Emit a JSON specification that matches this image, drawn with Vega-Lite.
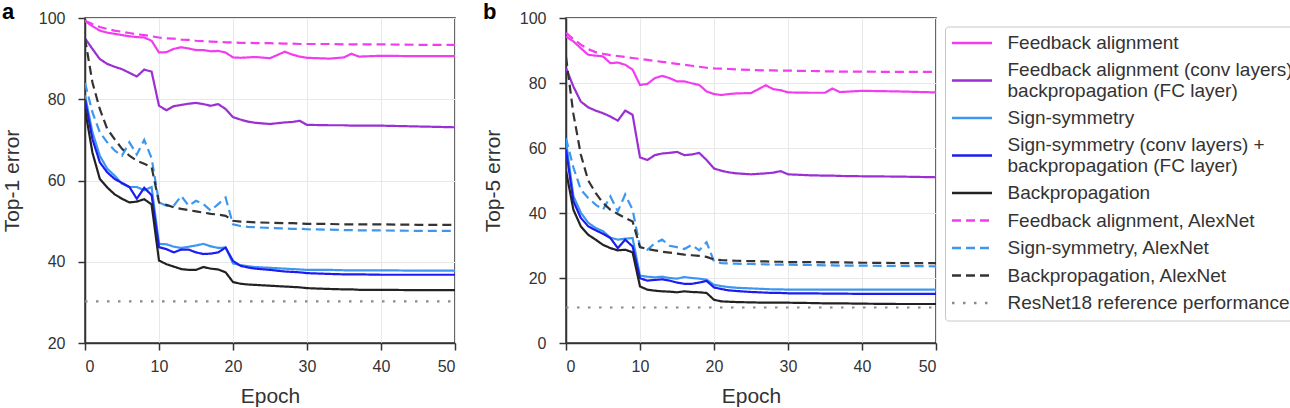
{
  "$schema": "https://vega.github.io/schema/vega-lite/v6.json",
  "padding": {"left": 0, "top": 0, "right": 0, "bottom": 0},
  "spacing": 24,
  "config": {
    "font": "Liberation Sans",
    "view": {"stroke": "#333333", "strokeWidth": 1.5},
    "axis": {"labelFontSize": 16, "titleFontSize": 21, "titleFontWeight": "normal", "labelColor": "#333333", "titleColor": "#333333", "domainColor": "#333333", "domainWidth": 1.5, "tickColor": "#333333", "tickWidth": 1.5, "tickSize": 7, "gridColor": "#e8e8e8", "gridWidth": 1},
    "axisX": {"labelPadding": 8, "titlePadding": 11},
    "axisY": {"labelPadding": 13, "titlePadding": 16},
    "title": {"fontSize": 22, "fontWeight": "bold", "anchor": "start", "frame": "group", "dx": -83, "offset": -14, "color": "#000000"},
    "legend": {"labelFontSize": 19, "labelColor": "#333333", "labelLimit": 600, "rowPadding": 7.5, "padding": 7, "strokeColor": "#c8c8c8", "cornerRadius": 3, "fillColor": "white"}
  },
  "datasets": {
    "top1": [
      {"epoch":0,"FA":99.3,"FAa":99.3,"FAc":95.0,"BPa":95.0,"SSa":84.0,"SS":81.0,"SSc":80.0,"BP":77.6,"RN":30.24},
      {"epoch":1,"FA":98.0,"FAa":98.5,"FAc":92.4,"BPa":84.2,"SSa":76.8,"SS":71.9,"SSc":70.2,"BP":66.9},
      {"epoch":2,"FA":96.9,"FAa":97.8,"FAc":89.9,"BPa":77.6,"SSa":71.9,"SS":66.1,"SSc":64.5,"BP":60.4},
      {"epoch":3,"FA":96.4,"FAa":97.3,"FAc":88.7,"BPa":72.7,"SSa":69.4,"SS":62.9,"SSc":62.0,"BP":58.3},
      {"epoch":4,"FA":96.1,"FAa":96.9,"FAc":88.0,"BPa":70.2,"SSa":67.4,"SS":61.2,"SSc":60.4,"BP":56.6},
      {"epoch":5,"FA":95.8,"FAa":96.6,"FAc":87.4,"BPa":67.8,"SSa":66.1,"SS":59.2,"SSc":59.4,"BP":55.5},
      {"epoch":6,"FA":95.5,"FAa":96.3,"FAc":86.5,"BPa":66.1,"SSa":69.4,"SS":58.4,"SSc":58.4,"BP":54.6},
      {"epoch":7,"FA":95.3,"FAa":96.0,"FAc":85.6,"BPa":64.9,"SSa":66.4,"SS":58.4,"SSc":55.5,"BP":54.8},
      {"epoch":8,"FA":95.2,"FAa":95.8,"FAc":87.3,"BPa":64.1,"SSa":70.0,"SS":57.6,"SSc":58.2,"BP":55.4},
      {"epoch":9,"FA":94.4,"FAa":95.5,"FAc":86.8,"BPa":63.3,"SSa":65.5,"SS":58.4,"SSc":56.4,"BP":54.1},
      {"epoch":10,"FA":91.5,"FAa":95.2,"FAc":78.4,"BPa":54.6,"SSa":54.6,"SS":44.4,"SSc":43.6,"BP":40.3},
      {"epoch":11,"FA":91.6,"FAa":95.0,"FAc":77.3,"BPa":54.0,"SSa":53.8,"SS":44.3,"SSc":43.1,"BP":39.4},
      {"epoch":12,"FA":92.4,"FAa":94.9,"FAc":78.3,"BPa":53.4,"SSa":53.8,"SS":43.7,"SSc":42.3,"BP":38.8},
      {"epoch":13,"FA":92.8,"FAa":94.7,"FAc":78.6,"BPa":53.0,"SSa":56.2,"SS":43.4,"SSc":43.0,"BP":38.2},
      {"epoch":14,"FA":92.5,"FAa":94.6,"FAc":78.9,"BPa":52.7,"SSa":53.8,"SS":43.7,"SSc":43.0,"BP":38.0},
      {"epoch":15,"FA":92.1,"FAa":94.4,"FAc":79.1,"BPa":52.4,"SSa":55.0,"SS":44.0,"SSc":42.3,"BP":38.0},
      {"epoch":16,"FA":92.1,"FAa":94.3,"FAc":78.8,"BPa":52.1,"SSa":54.2,"SS":44.4,"SSc":41.9,"BP":38.7},
      {"epoch":17,"FA":91.8,"FAa":94.2,"FAc":78.4,"BPa":51.8,"SSa":52.6,"SS":43.8,"SSc":42.0,"BP":38.3},
      {"epoch":18,"FA":91.9,"FAa":94.1,"FAc":78.8,"BPa":51.6,"SSa":54.2,"SS":43.4,"SSc":42.3,"BP":38.1},
      {"epoch":19,"FA":91.5,"FAa":94.0,"FAc":77.6,"BPa":51.3,"SSa":55.8,"SS":43.5,"SSc":43.5,"BP":37.4},
      {"epoch":20,"FA":90.3,"FAa":94.0,"FAc":75.6,"BPa":50.1,"SSa":49.2,"SS":39.6,"SSc":40.2,"BP":35.0},
      {"epoch":21,"FA":90.2,"FAa":93.9,"FAc":75.0,"BPa":49.9,"SSa":48.8,"SS":39.2,"SSc":39.0,"BP":34.6},
      {"epoch":22,"FA":90.3,"FAa":93.9,"FAc":74.5,"BPa":49.8,"SSa":48.6,"SS":38.9,"SSc":38.6,"BP":34.4},
      {"epoch":23,"FA":90.4,"FAa":93.8,"FAc":74.2,"BPa":49.7,"SSa":48.5,"SS":38.7,"SSc":38.3,"BP":34.3},
      {"epoch":25,"FA":90.1,"FAa":93.8,"FAc":73.9,"BPa":49.6,"SSa":48.3,"SS":38.5,"SSc":38.0,"BP":34.1},
      {"epoch":27,"FA":91.7,"FAa":93.7,"FAc":74.3,"BPa":49.5,"SSa":48.2,"SS":38.3,"SSc":37.6,"BP":33.9},
      {"epoch":28,"FA":91.0,"FAa":93.7,"FAc":74.4,"BPa":49.5,"SSa":48.1,"SS":38.2,"SSc":37.5,"BP":33.8},
      {"epoch":29,"FA":90.5,"FAa":93.6,"FAc":74.7,"BPa":49.4,"SSa":48.1,"SS":38.1,"SSc":37.4,"BP":33.7},
      {"epoch":30,"FA":90.2,"FAa":93.6,"FAc":73.7,"BPa":49.3,"SSa":48.0,"SS":38.0,"SSc":37.2,"BP":33.5},
      {"epoch":33,"FA":90.0,"FAa":93.6,"FAc":73.6,"BPa":49.3,"SSa":47.9,"SS":38.0,"SSc":37.0,"BP":33.3},
      {"epoch":35,"FA":90.3,"FAa":93.5,"FAc":73.6,"BPa":49.2,"SSa":47.8,"SS":37.9,"SSc":36.9,"BP":33.2},
      {"epoch":36,"FA":91.2,"FAa":93.5,"FAc":73.5,"BPa":49.2,"SSa":47.8,"SS":37.9,"SSc":36.9,"BP":33.2},
      {"epoch":37,"FA":90.5,"FAa":93.5,"FAc":73.5,"BPa":49.2,"SSa":47.7,"SS":37.9,"SSc":36.9,"BP":33.1},
      {"epoch":40,"FA":90.7,"FAa":93.5,"FAc":73.5,"BPa":49.2,"SSa":47.7,"SS":37.9,"SSc":36.8,"BP":33.1},
      {"epoch":45,"FA":90.6,"FAa":93.4,"FAc":73.3,"BPa":49.1,"SSa":47.6,"SS":37.8,"SSc":36.8,"BP":33.0},
      {"epoch":50,"FA":90.6,"FAa":93.4,"FAc":73.1,"BPa":49.1,"SSa":47.6,"SS":37.8,"SSc":36.8,"BP":33.0,"RN":30.24}
    ],
    "top5": [
      {"epoch":0,"FA":94.3,"FAa":95.4,"FAc":84.6,"BPa":88.0,"SSa":63.0,"SS":62.0,"SSc":59.6,"BP":53.0,"RN":10.92},
      {"epoch":1,"FA":92.8,"FAa":93.5,"FAc":78.9,"BPa":70.5,"SSa":54.0,"SS":45.2,"SSc":43.6,"BP":41.0},
      {"epoch":2,"FA":90.7,"FAa":91.8,"FAc":74.3,"BPa":58.0,"SSa":47.2,"SS":40.1,"SSc":38.5,"BP":35.9},
      {"epoch":3,"FA":88.7,"FAa":90.4,"FAc":72.5,"BPa":50.0,"SSa":44.6,"SS":37.0,"SSc":35.9,"BP":33.3},
      {"epoch":4,"FA":88.4,"FAa":89.5,"FAc":71.5,"BPa":46.2,"SSa":42.6,"SS":35.4,"SSc":34.7,"BP":31.8},
      {"epoch":5,"FA":88.2,"FAa":89.0,"FAc":70.7,"BPa":43.1,"SSa":41.0,"SS":34.4,"SSc":33.6,"BP":30.2},
      {"epoch":6,"FA":86.1,"FAa":88.6,"FAc":69.7,"BPa":41.0,"SSa":45.1,"SS":32.4,"SSc":32.3,"BP":29.2},
      {"epoch":7,"FA":86.3,"FAa":88.3,"FAc":68.4,"BPa":39.7,"SSa":40.5,"SS":31.8,"SSc":29.2,"BP":28.5},
      {"epoch":8,"FA":85.6,"FAa":88.0,"FAc":71.5,"BPa":38.5,"SSa":45.7,"SS":32.1,"SSc":31.8,"BP":28.7},
      {"epoch":9,"FA":84.1,"FAa":87.7,"FAc":70.2,"BPa":37.4,"SSa":41.0,"SS":32.3,"SSc":29.7,"BP":27.9},
      {"epoch":10,"FA":79.4,"FAa":87.4,"FAc":57.1,"BPa":29.5,"SSa":29.5,"SS":20.7,"SSc":19.9,"BP":17.4},
      {"epoch":11,"FA":79.7,"FAa":87.1,"FAc":56.3,"BPa":28.9,"SSa":28.7,"SS":20.4,"SSc":19.2,"BP":16.4},
      {"epoch":12,"FA":81.5,"FAa":86.8,"FAc":57.8,"BPa":28.5,"SSa":30.7,"SS":20.2,"SSc":19.4,"BP":16.1},
      {"epoch":13,"FA":82.2,"FAa":86.5,"FAc":58.3,"BPa":28.1,"SSa":31.8,"SS":20.4,"SSc":19.6,"BP":15.9},
      {"epoch":14,"FA":81.5,"FAa":86.2,"FAc":58.5,"BPa":27.8,"SSa":29.9,"SS":20.0,"SSc":19.2,"BP":15.8},
      {"epoch":15,"FA":80.5,"FAa":85.9,"FAc":58.8,"BPa":27.5,"SSa":29.5,"SS":19.8,"SSc":18.6,"BP":15.6},
      {"epoch":16,"FA":80.5,"FAa":85.6,"FAc":57.8,"BPa":27.2,"SSa":28.9,"SS":20.3,"SSc":18.2,"BP":15.9},
      {"epoch":17,"FA":79.9,"FAa":85.3,"FAc":58.0,"BPa":27.0,"SSa":30.2,"SS":20.0,"SSc":18.2,"BP":15.7},
      {"epoch":18,"FA":79.4,"FAa":85.0,"FAc":58.5,"BPa":26.8,"SSa":28.5,"SS":19.8,"SSc":18.6,"BP":15.6},
      {"epoch":19,"FA":77.4,"FAa":84.7,"FAc":56.3,"BPa":26.5,"SSa":31.0,"SS":19.5,"SSc":19.1,"BP":15.4},
      {"epoch":20,"FA":76.6,"FAa":84.5,"FAc":53.7,"BPa":25.7,"SSa":25.1,"SS":17.9,"SSc":17.1,"BP":13.3},
      {"epoch":21,"FA":76.3,"FAa":84.4,"FAc":53.0,"BPa":25.5,"SSa":24.6,"SS":17.5,"SSc":16.6,"BP":12.8},
      {"epoch":22,"FA":76.6,"FAa":84.3,"FAc":52.5,"BPa":25.4,"SSa":24.5,"SS":17.2,"SSc":16.2,"BP":12.7},
      {"epoch":23,"FA":76.8,"FAa":84.2,"FAc":52.2,"BPa":25.3,"SSa":24.4,"SS":17.0,"SSc":16.0,"BP":12.6},
      {"epoch":25,"FA":76.9,"FAa":84.0,"FAc":51.9,"BPa":25.2,"SSa":24.3,"SS":16.8,"SSc":15.7,"BP":12.5},
      {"epoch":27,"FA":79.3,"FAa":83.9,"FAc":52.2,"BPa":25.1,"SSa":24.2,"SS":16.6,"SSc":15.5,"BP":12.4},
      {"epoch":28,"FA":78.1,"FAa":83.9,"FAc":52.4,"BPa":25.0,"SSa":24.1,"SS":16.5,"SSc":15.4,"BP":12.4},
      {"epoch":29,"FA":77.8,"FAa":83.8,"FAc":52.9,"BPa":25.0,"SSa":24.1,"SS":16.5,"SSc":15.4,"BP":12.4},
      {"epoch":30,"FA":77.1,"FAa":83.8,"FAc":51.9,"BPa":24.9,"SSa":24.1,"SS":16.4,"SSc":15.3,"BP":12.4},
      {"epoch":33,"FA":77.0,"FAa":83.7,"FAc":51.6,"BPa":24.9,"SSa":24.0,"SS":16.4,"SSc":15.3,"BP":12.3},
      {"epoch":35,"FA":77.0,"FAa":83.6,"FAc":51.5,"BPa":24.8,"SSa":23.9,"SS":16.4,"SSc":15.2,"BP":12.2},
      {"epoch":36,"FA":78.3,"FAa":83.6,"FAc":51.5,"BPa":24.8,"SSa":23.9,"SS":16.4,"SSc":15.2,"BP":12.2},
      {"epoch":37,"FA":77.2,"FAa":83.5,"FAc":51.4,"BPa":24.8,"SSa":23.8,"SS":16.4,"SSc":15.2,"BP":12.2},
      {"epoch":40,"FA":77.6,"FAa":83.5,"FAc":51.3,"BPa":24.7,"SSa":23.8,"SS":16.4,"SSc":15.1,"BP":12.1},
      {"epoch":45,"FA":77.4,"FAa":83.4,"FAc":51.2,"BPa":24.6,"SSa":23.7,"SS":16.4,"SSc":15.1,"BP":12.0},
      {"epoch":50,"FA":77.1,"FAa":83.4,"FAc":51.0,"BPa":24.6,"SSa":23.6,"SS":16.4,"SSc":15.1,"BP":12.0,"RN":10.92}
    ]
  },
  "resolve": {
    "scale": {"y": "independent", "color": "independent", "strokeDash": "independent"},
    "legend": {"color": "independent", "strokeDash": "independent"}
  },
  "hconcat": [
    {
      "title": "a",
      "width": 370,
      "height": 325,
      "data": {"name": "top1"},
      "transform": [
        {"fold": ["FA", "FAc", "SS", "SSc", "BP", "FAa", "SSa", "BPa", "RN"], "as": ["series", "err"]},
        {"filter": {"field": "err", "valid": true}}
      ],
      "mark": {"type": "line", "strokeWidth": 2.2, "clip": true},
      "encoding": {
        "x": {"field": "epoch", "type": "quantitative", "scale": {"domain": [0, 50], "nice": false}, "axis": {"values": [0, 10, 20, 30, 40, 50], "title": "Epoch"}},
        "y": {"field": "err", "type": "quantitative", "scale": {"domain": [20, 100], "nice": false, "zero": false}, "axis": {"values": [20, 40, 60, 80, 100], "title": "Top-1 error"}},
        "color": {"field": "series", "type": "nominal", "scale": {"domain": ["FA", "FAc", "SS", "SSc", "BP", "FAa", "SSa", "BPa", "RN"], "range": ["#f23cf0", "#9b2fd4", "#3d97f0", "#1c1cf0", "#222222", "#f23cf0", "#3d97f0", "#333333", "#8a8a8a"]}, "legend": null},
        "strokeDash": {"field": "series", "type": "nominal", "scale": {"domain": ["FA", "FAc", "SS", "SSc", "BP", "FAa", "SSa", "BPa", "RN"], "range": [[1, 0], [1, 0], [1, 0], [1, 0], [1, 0], [9, 5], [9, 5], [9, 5], [2.5, 8.5]]}, "legend": null}
      }
    },
    {
      "title": "b",
      "width": 370,
      "height": 325,
      "data": {"name": "top5"},
      "transform": [
        {"fold": ["FA", "FAc", "SS", "SSc", "BP", "FAa", "SSa", "BPa", "RN"], "as": ["series", "err"]},
        {"filter": {"field": "err", "valid": true}}
      ],
      "mark": {"type": "line", "strokeWidth": 2.2, "clip": true},
      "encoding": {
        "x": {"field": "epoch", "type": "quantitative", "scale": {"domain": [0, 50], "nice": false}, "axis": {"values": [0, 10, 20, 30, 40, 50], "title": "Epoch"}},
        "y": {"field": "err", "type": "quantitative", "scale": {"domain": [0, 100], "nice": false}, "axis": {"values": [0, 20, 40, 60, 80, 100], "title": "Top-5 error"}},
        "color": {"field": "series", "type": "nominal", "scale": {"domain": ["FA", "FAc", "SS", "SSc", "BP", "FAa", "SSa", "BPa", "RN"], "range": ["#f23cf0", "#9b2fd4", "#3d97f0", "#1c1cf0", "#222222", "#f23cf0", "#3d97f0", "#333333", "#8a8a8a"]},
          "legend": {"orient": "none", "legendX": 379, "legendY": 8.5, "title": null,
            "symbolType": "M-2.5,0H2.5", "symbolSize": 256, "symbolStrokeWidth": 2.5, "symbolOffset": 10.5, "labelOffset": 26,
            "labelExpr": "datum.label == 'FA' ? 'Feedback alignment' : datum.label == 'FAc' ? ['Feedback alignment (conv layers) +', 'backpropagation (FC layer)'] : datum.label == 'SS' ? 'Sign-symmetry' : datum.label == 'SSc' ? ['Sign-symmetry (conv layers) +', 'backpropagation (FC layer)'] : datum.label == 'BP' ? 'Backpropagation' : datum.label == 'FAa' ? 'Feedback alignment, AlexNet' : datum.label == 'SSa' ? 'Sign-symmetry, AlexNet' : datum.label == 'BPa' ? 'Backpropagation, AlexNet' : 'ResNet18 reference performance'",
            "encode": {"labels": {"update": {"lineHeight": {"value": 21}, "dy": {"signal": "datum.label == 'FAc' || datum.label == 'SSc' ? -10.5 : 0"}}}}}},
        "strokeDash": {"field": "series", "type": "nominal", "scale": {"domain": ["FA", "FAc", "SS", "SSc", "BP", "FAa", "SSa", "BPa", "RN"], "range": [[1, 0], [1, 0], [1, 0], [1, 0], [1, 0], [9, 5], [9, 5], [9, 5], [2.5, 8.5]]},
          "legend": {"orient": "none", "legendX": 379, "legendY": 8.5, "title": null,
            "symbolType": "M-2.5,0H2.5", "symbolSize": 256, "symbolStrokeWidth": 2.5, "symbolOffset": 10.5, "labelOffset": 26,
            "labelExpr": "datum.label == 'FA' ? 'Feedback alignment' : datum.label == 'FAc' ? ['Feedback alignment (conv layers) +', 'backpropagation (FC layer)'] : datum.label == 'SS' ? 'Sign-symmetry' : datum.label == 'SSc' ? ['Sign-symmetry (conv layers) +', 'backpropagation (FC layer)'] : datum.label == 'BP' ? 'Backpropagation' : datum.label == 'FAa' ? 'Feedback alignment, AlexNet' : datum.label == 'SSa' ? 'Sign-symmetry, AlexNet' : datum.label == 'BPa' ? 'Backpropagation, AlexNet' : 'ResNet18 reference performance'",
            "encode": {"labels": {"update": {"lineHeight": {"value": 21}, "dy": {"signal": "datum.label == 'FAc' || datum.label == 'SSc' ? -10.5 : 0"}}}}}}
      }
    }
  ]
}
